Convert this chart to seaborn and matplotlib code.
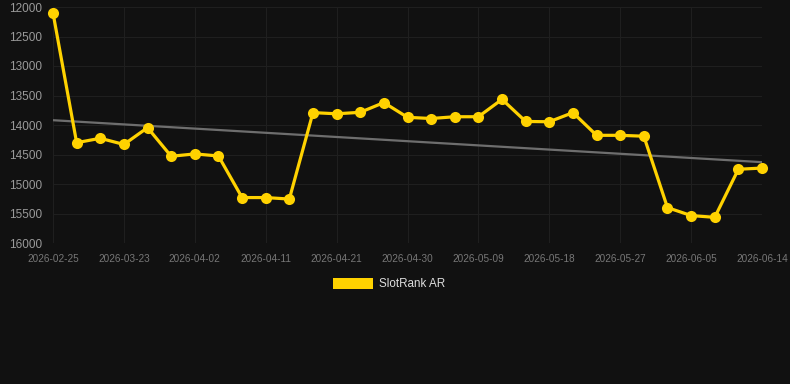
import numpy as np
import pandas as pd
import matplotlib
matplotlib.use("Agg")
import matplotlib.pyplot as plt
from matplotlib.patches import Patch
import seaborn as sns

dates = [
    "2026-02-25", "2026-03-15", "2026-03-19", "2026-03-23", "2026-03-26", "2026-03-29",
    "2026-04-02", "2026-04-05", "2026-04-08", "2026-04-11", "2026-04-14", "2026-04-18",
    "2026-04-21", "2026-04-24", "2026-04-27", "2026-04-30", "2026-05-03", "2026-05-06",
    "2026-05-09", "2026-05-12", "2026-05-15", "2026-05-18", "2026-05-21", "2026-05-24",
    "2026-05-27", "2026-05-30", "2026-06-02", "2026-06-05", "2026-06-08", "2026-06-11",
    "2026-06-14",
]
rank = [
    12100, 14300, 14225, 14330, 14045, 14530, 14490, 14525, 15230, 15230, 15255,
    13790, 13810, 13785, 13620, 13870, 13890, 13860, 13860, 13565, 13940, 13945,
    13790, 14175, 14175, 14190, 15400, 15535, 15565, 14750, 14730,
]
series_name = "SlotRank AR"

BG = "#111111"
GOLD = "#FFD200"

df = pd.DataFrame({"idx": np.arange(len(dates)), "date": dates, "rank": rank})

sns.set_theme(style="dark")
plt.rcParams["font.family"] = ["Liberation Sans", "DejaVu Sans"]

fig = plt.figure(figsize=(7.9, 3.84), dpi=100, facecolor=BG)
ax = fig.add_axes([53 / 790, 1 - 243 / 384, 709 / 790, 236 / 384])
ax.set_facecolor(BG)

# trend line (least squares over the series)
coef = np.polyfit(df["idx"], df["rank"], 1)
trend = np.polyval(coef, df["idx"])
ax.plot(df["idx"], trend, color="#6e6e6e", lw=1.6, zorder=2)

sns.lineplot(data=df, x="idx", y="rank", color=GOLD, lw=2.3, marker="o",
             markersize=8, markeredgewidth=0, ax=ax, zorder=3, clip_on=False)

ax.set_xlim(0, len(dates) - 1)
ax.set_ylim(16000, 12000)
ax.set_yticks(np.arange(12000, 16001, 500))
ax.set_xticks(df["idx"][::3])
ax.set_xticklabels(df["date"][::3])

ax.grid(True, color="#1f1f1f", lw=0.8)
for s in ax.spines.values():
    s.set_visible(False)
ax.tick_params(axis="y", colors="#9a9a9a", labelsize=8.5, length=0, pad=8)
ax.tick_params(axis="x", colors="#777777", labelsize=7.2, length=4, width=0.8,
               pad=4, color="#2a2a2a")
ax.set_xlabel("")
ax.set_ylabel("")

handle = Patch(facecolor=GOLD, edgecolor="none")
fig.legend([handle], [series_name], loc="center", bbox_to_anchor=(389 / 790, 1 - 284 / 384),
           frameon=False, fontsize=8.4, handlelength=3.4, handleheight=1.1,
           handletextpad=0.5, labelcolor="#dddddd")

fig.savefig("out.png", dpi=100, facecolor=BG)
